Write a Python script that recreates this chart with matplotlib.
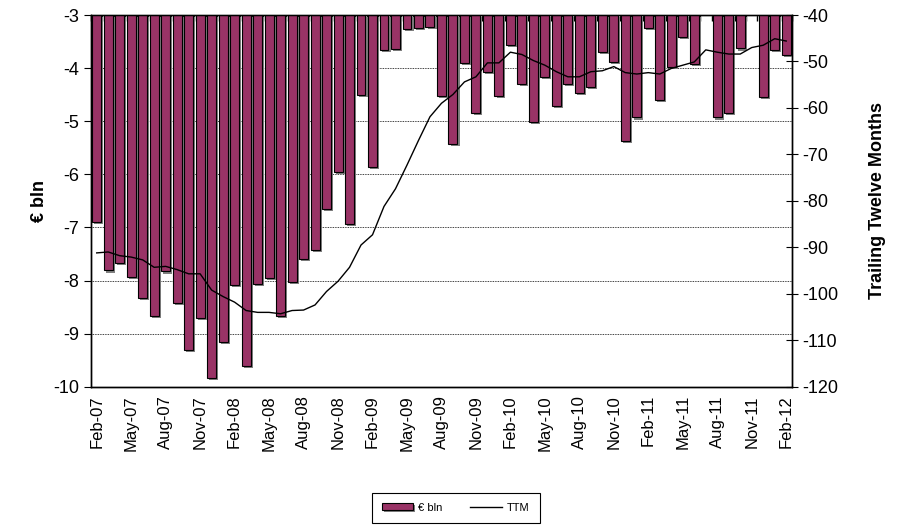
import matplotlib
matplotlib.use("Agg")
import matplotlib.pyplot as plt
import matplotlib.patheffects as pe
import numpy as np
import pandas as pd

plt.rcParams['font.family'] = ['Liberation Sans', 'DejaVu Sans']
plt.rcParams['axes.unicode_minus'] = False

# monthly balance, Feb-07 .. Feb-12 (EUR bln)
months = pd.date_range("2007-02-01", periods=61, freq="MS")
month_labels = [d.strftime("%b-%y") for d in months]

balance = [
    -6.89, -7.81, -7.67, -7.93, -8.32, -8.67, -7.83, -8.42, -9.31, -8.70,
    -9.84, -9.16, -8.08, -9.61, -8.06, -7.96, -8.66, -8.02, -7.60, -7.43,
    -6.65, -5.95, -6.93, -4.50, -5.87, -3.66, -3.64, -3.27, -3.24, -3.23,
    -4.53, -5.43, -3.91, -4.85, -4.07, -4.52, -3.57, -4.30, -5.01, -4.17,
    -4.71, -4.29, -4.47, -4.35, -3.70, -3.89, -5.38, -4.93, -3.25, -4.60,
    -3.97, -3.42, -3.93, -3.00, -4.93, -4.85, -3.63, -3.00, -4.55, -3.66,
    -3.76,
]

# trailing twelve months sum
ttm = [
    -91.2, -91.0, -91.8, -92.1, -92.7, -94.3, -94.1, -94.8, -95.7, -95.7,
    -99.2, -100.6, -101.8, -103.6, -104.0, -104.0, -104.3, -103.6, -103.5, -102.4,
    -99.5, -97.3, -94.3, -89.5, -87.3, -81.2, -77.4, -72.3, -67.0, -61.9,
    -59.0, -57.1, -54.4, -53.3, -50.3, -50.3, -48.0, -48.5, -49.8, -50.8,
    -52.2, -53.3, -53.3, -52.2, -52.0, -51.1, -52.4, -52.7, -52.4, -52.7,
    -51.5, -50.8, -50.1, -47.5, -48.0, -48.4, -48.4, -47.0, -46.5, -45.1,
    -45.6,
]

x = np.arange(len(balance))
base = -3

fig = plt.figure(figsize=(8.97, 5.25), dpi=100)
ax = fig.add_axes([0.1014, 0.2634, 0.7815, 0.708])

heights = [v - base for v in balance]
bars = ax.bar(x, heights, bottom=base, width=0.78, color="#993366",
              edgecolor="black", linewidth=0.8, label="€ bln", zorder=3)
for b in bars:
    b.set_path_effects([pe.SimplePatchShadow(offset=(1.5, -1.5), shadow_rgbFace="#808080", alpha=1.0),
                        pe.Normal()])

ax.set_xlim(-0.5, len(balance) - 0.5)
ax.set_ylim(-10, -3)
ax.set_yticks(range(-10, -2))
ax.yaxis.grid(True, linestyle=(0, (1, 1)), color="black", linewidth=0.6)
ax.set_axisbelow(True)

ax.set_xticks(x[::3])
ax.set_xticklabels(month_labels[::3], rotation=90, fontsize=12)
ax.set_xticks(np.arange(-0.5, len(balance), 1), minor=True)
ax.tick_params(axis="x", which="major", length=0, pad=6)
ax.tick_params(axis="x", which="minor", top=True, bottom=False, direction="in", length=4, width=1)
ax.tick_params(axis="y", labelsize=13, direction="out", length=5)
ax.set_ylabel("€ bln", fontsize=13, fontweight="bold", labelpad=4)

ax2 = ax.twinx()
ax2.plot(x, ttm, color="black", linewidth=1.0, label="TTM", zorder=4)
ax2.set_ylim(-120, -40)
ax2.set_yticks(range(-120, -39, 10))
ax2.tick_params(axis="y", labelsize=13, direction="inout", length=8)
ax2.set_ylabel("Trailing Twelve Months", fontsize=13, fontweight="bold", labelpad=22)

for a in (ax, ax2):
    for s in a.spines.values():
        s.set_linewidth(1.0)
ax.spines["top"].set_color("#555555")

fig.legend(handles=[bars, ax2.lines[0]], labels=["€ bln", "TTM"], loc="center",
           bbox_to_anchor=(0.508, 0.033), ncol=2, fontsize=8, frameon=True,
           fancybox=False, edgecolor="black", framealpha=1, handlelength=2.8,
           handleheight=0.6, handletextpad=0.5, columnspacing=2.5,
           borderpad=0.9, borderaxespad=0.0)
fig.legends[0].get_frame().set_linewidth(0.8)

fig.savefig("out.png", dpi=100)
